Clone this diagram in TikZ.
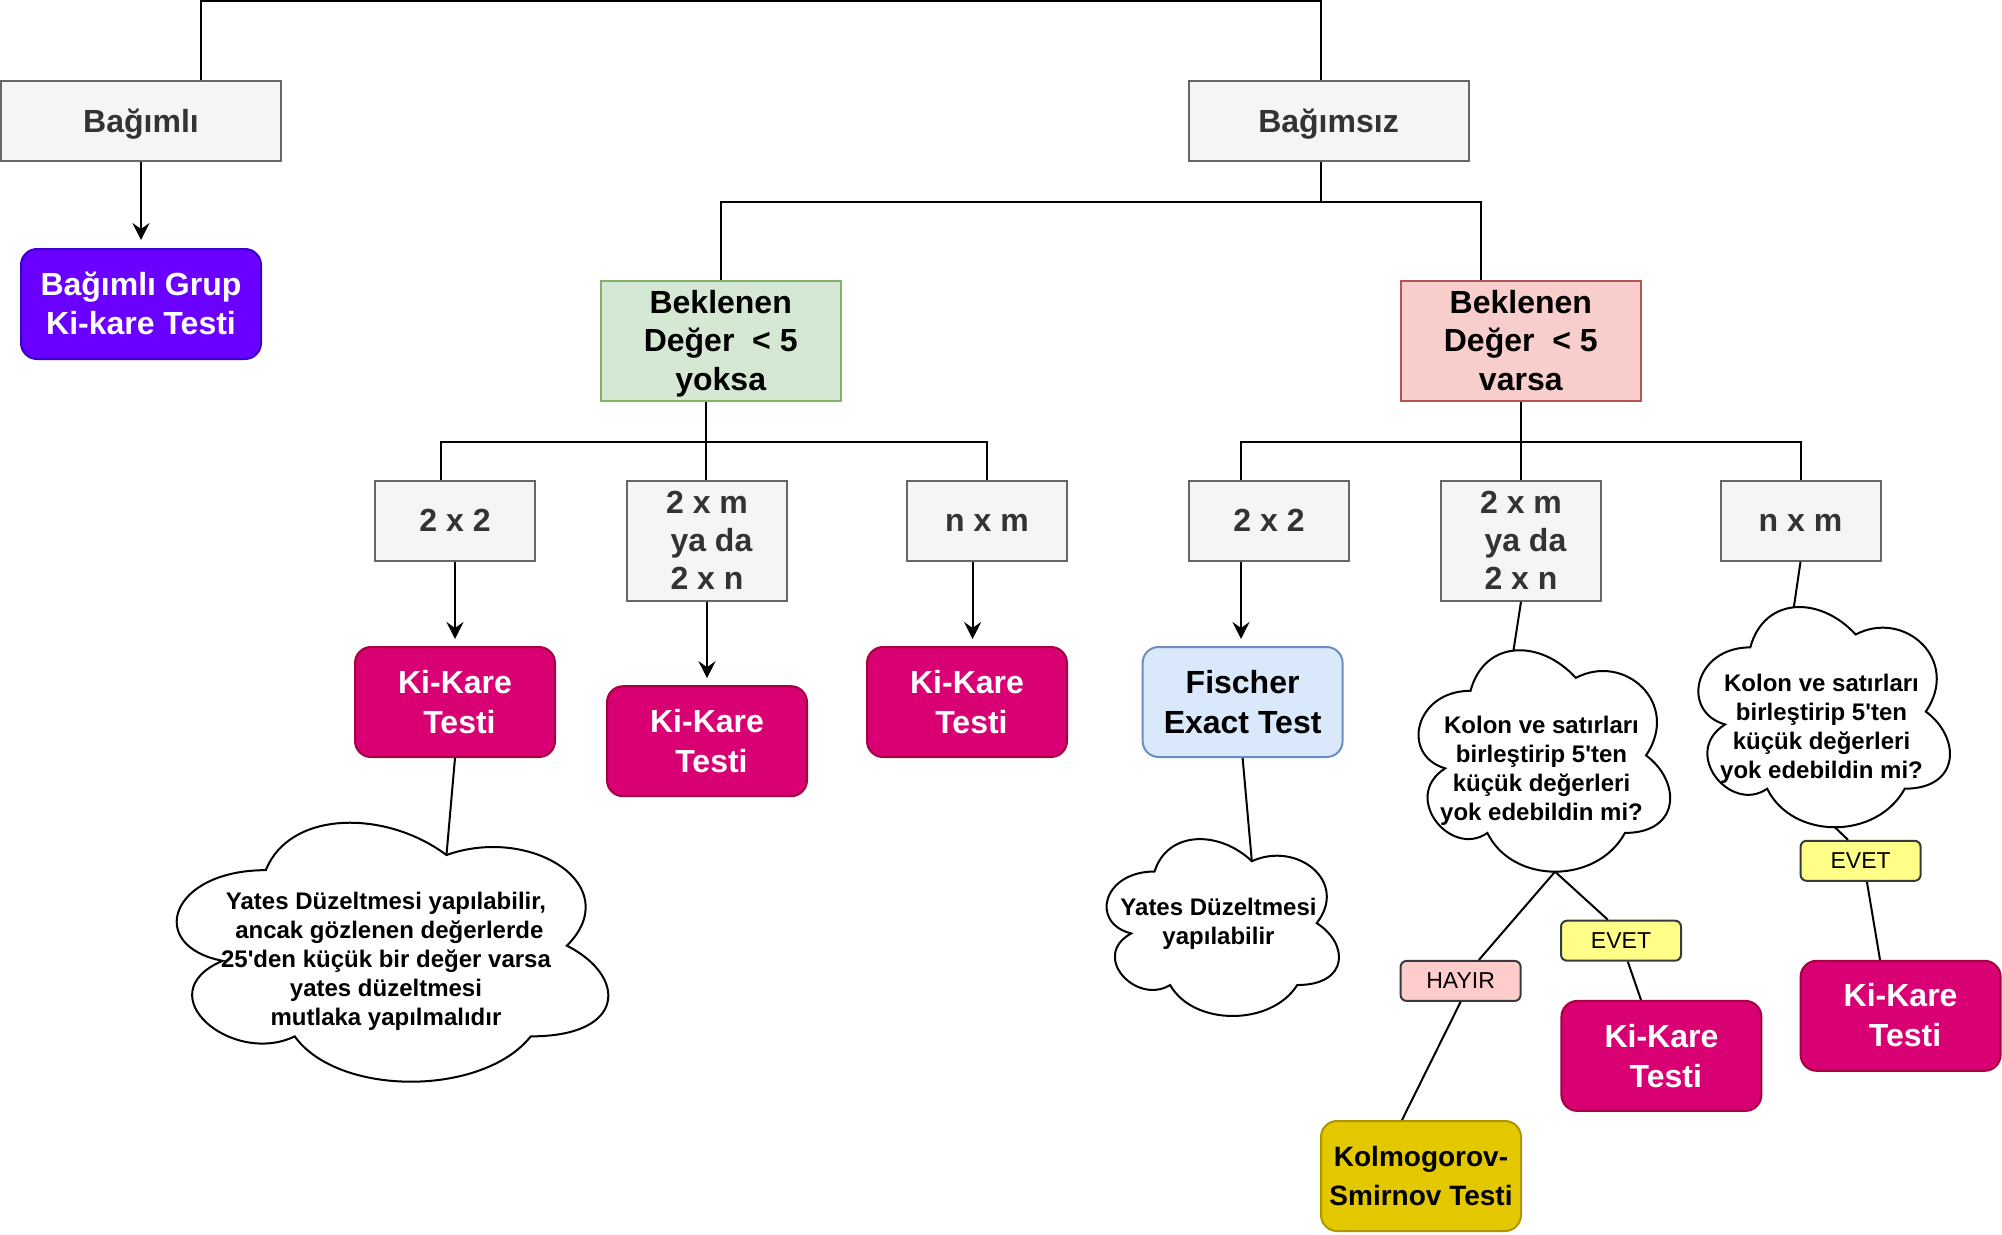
\documentclass[tikz,border=0pt]{standalone}
\usepackage{fontspec}
\setmainfont{Liberation Sans}[Ligatures=TeXOff]
\usetikzlibrary{arrows.meta}
\definecolor{grayfill}{HTML}{F5F5F5}
\definecolor{grayline}{HTML}{666666}
\definecolor{graytext}{HTML}{333333}
\definecolor{greenfill}{HTML}{D5E8D4}
\definecolor{greenline}{HTML}{82B366}
\definecolor{redfill}{HTML}{F8CECC}
\definecolor{redline}{HTML}{B85450}
\definecolor{purplefill}{HTML}{6A00FF}
\definecolor{purpleline}{HTML}{3700CC}
\definecolor{kkfill}{HTML}{D80073}
\definecolor{kkline}{HTML}{A50040}
\definecolor{bluefill}{HTML}{DAE8FC}
\definecolor{blueline}{HTML}{6C8EBF}
\definecolor{goldfill}{HTML}{E3C800}
\definecolor{goldline}{HTML}{B09500}
\definecolor{evetfill}{HTML}{FFFF88}
\definecolor{hayirfill}{HTML}{FFCCCC}
\definecolor{lblline}{HTML}{36393D}
% line strut: centres each line box like the original renderer does
\newcommand\ds{\rule[\dimexpr0.3465em-0.5\baselineskip\relax]{0pt}{\baselineskip}}
\begin{document}
\begin{tikzpicture}[x=1pt,y=-1pt,
  edge/.style={line width=2pt, draw=black},
  arr/.style={edge, -{Stealth[length=17pt,width=17pt,inset=6pt]}, shorten >=7pt},
  basebox/.style={line width=2pt, inner sep=0pt, align=center, font=\fontsize{32}{39}\selectfont\bfseries},
  graybox/.style={basebox, draw=grayline, fill=grayfill, text=graytext, minimum width=160pt, minimum height=80pt},
  kkbox/.style={basebox, rounded corners=16pt, draw=kkline, fill=kkfill, text=white, minimum width=200pt, minimum height=110pt, font=\fontsize{32}{40}\selectfont\bfseries},
  lblbox/.style={line width=2pt, inner sep=0pt, rounded corners=6pt, draw=lblline, minimum width=120pt, minimum height=40pt, font=\fontsize{23}{28}\selectfont},
  cloudline/.style={line width=2pt, draw=black, fill=white},
  cloudtxt/.style={align=center, inner sep=0pt, font=\fontsize{24}{29}\selectfont\bfseries}
]
\useasboundingbox (0,0) rectangle (2002,1234);

% ---------- clouds ----------
\newcommand\mycloud{%
  \draw[cloudline] (0.25,0.25) .. controls (0.05,0.25) and (0,0.5) .. (0.16,0.55)
    .. controls (0,0.66) and (0.18,0.9) .. (0.31,0.8)
    .. controls (0.4,1) and (0.7,1) .. (0.8,0.8)
    .. controls (1,0.8) and (1,0.6) .. (0.875,0.5)
    .. controls (1,0.3) and (0.8,0.1) .. (0.625,0.2)
    .. controls (0.5,0.05) and (0.3,0.05) .. (0.25,0.25) -- cycle;}
\begin{scope}[shift={(145.4,794.6)}, xscale=481.7, yscale=302.2]
  \mycloud
  \coordinate (c1n) at (0.625,0.2);
\end{scope}
\begin{scope}[shift={(1400.3,626.2)}, xscale=280.8, yscale=258.4]
  \mycloud
  \coordinate (c2t) at (0.403,0.094);
  \coordinate (c2b) at (0.551,0.95);
\end{scope}
\begin{scope}[shift={(1680.1,583.1)}, xscale=280.8, yscale=257]
  \mycloud
  \coordinate (c3t) at (0.405,0.094);
  \coordinate (c3b) at (0.551,0.95);
\end{scope}
\begin{scope}[shift={(1089.7,819.9)}, xscale=259.4, yscale=206.4]
  \mycloud
  \coordinate (c4n) at (0.625,0.2);
\end{scope}

\node[cloudtxt] (t1) at (386,959) {\ds Yates Düzeltmesi yapılabilir,\\\ds\ ancak gözlenen değerlerde\\\ds 25'den küçük bir değer varsa\\\ds yates düzeltmesi\\\ds mutlaka yapılmalıdır};
\node[cloudtxt] (t2) at (1541.5,768.6) {\ds Kolon ve satırları\\\ds birleştirip 5'ten\\\ds küçük değerleri\\\ds yok edebildin mi?};
\node[cloudtxt] (t3) at (1821.5,726.2) {\ds Kolon ve satırları\\\ds birleştirip 5'ten\\\ds küçük değerleri\\\ds yok edebildin mi?};
\node[cloudtxt] (t4) at (1218.5,921.2) {\ds Yates Düzeltmesi\\\ds yapılabilir};

% ---------- boxes ----------
\node[graybox, minimum width=280pt] (bagimli) at (141,121) {\ds Bağımlı};
\node[graybox, minimum width=280pt] (bagimsiz) at (1328.5,121) {\ds Bağımsız};
\node[basebox, rounded corners=16pt, draw=purpleline, fill=purplefill, text=white, minimum width=240pt, minimum height=110pt, font=\fontsize{32}{39.5}\selectfont\bfseries] (grup) at (141,304) {\ds Bağımlı Grup\\\ds Ki-kare Testi};
\node[basebox, draw=greenline, fill=greenfill, text=black, minimum width=240pt, minimum height=120pt, font=\fontsize{32}{38.5}\selectfont\bfseries] (yok) at (720.7,340.8) {\ds Beklenen\\\ds Değer~~< 5\\\ds yoksa};
\node[basebox, draw=redline, fill=redfill, text=black, minimum width=240pt, minimum height=120pt, font=\fontsize{32}{38.5}\selectfont\bfseries] (var) at (1520.8,340.8) {\ds Beklenen\\\ds Değer~~< 5\\\ds varsa};

\node[graybox] (lA) at (455,520.7) {\ds 2 x 2};
\node[graybox, minimum height=120pt, font=\fontsize{32}{38}\selectfont\bfseries] (lB) at (707,540.7) {\ds 2 x m\\\ds\ ya da\\\ds 2 x n};
\node[graybox] (lC) at (987,520.7) {\ds n x m};
\node[kkbox] (kA) at (455,702) {\ds Ki-Kare\\\ds\ Testi};
\node[kkbox] (kB) at (707,741.2) {\ds Ki-Kare\\\ds\ Testi};
\node[kkbox] (kC) at (967,702) {\ds Ki-Kare\\\ds\ Testi};

\node[graybox] (rA) at (1269,520.7) {\ds 2 x 2};
\node[graybox, minimum height=120pt, font=\fontsize{32}{38}\selectfont\bfseries] (rB) at (1521,540.7) {\ds 2 x m\\\ds\ ya da\\\ds 2 x n};
\node[graybox] (rC) at (1800.5,520.7) {\ds n x m};
\node[basebox, rounded corners=16pt, draw=blueline, fill=bluefill, text=black, minimum width=200pt, minimum height=110pt, font=\fontsize{32}{40}\selectfont\bfseries] (fis) at (1242.6,702) {\ds Fischer\\\ds Exact Test};

\node[lblbox, fill=evetfill] (ev1) at (1621,940.7) {\ds EVET};
\node[lblbox, fill=hayirfill] (hay) at (1460.6,980.9) {\ds HAYIR};
\node[kkbox] (kD) at (1661.4,1055.9) {\ds Ki-Kare\\\ds\ Testi};
\node[basebox, rounded corners=16pt, draw=goldline, fill=goldfill, text=black, minimum width=200pt, minimum height=110pt, font=\fontsize{28}{39}\selectfont\bfseries] (kol) at (1421,1176) {\ds Kolmogorov-\\\ds Smirnov Testi};
\node[lblbox, fill=evetfill] (ev2) at (1860.6,860.8) {\ds EVET};
\node[kkbox] (kE) at (1900.6,1015.8) {\ds Ki-Kare\\\ds\ Testi};

% ---------- connectors ----------
\draw[edge] ([xshift=60pt]bagimli.north) -- ++(0,-79) -| ([xshift=-7.7pt]bagimsiz.north);
\draw[arr, shorten >=8pt] (bagimli.south) -- (grup.north);
\draw[edge] ([xshift=-7.7pt]bagimsiz.south) -- ++(0,40) -| (yok.north);
\draw[edge] ([xshift=-7.7pt]bagimsiz.south) -- ++(0,40) -| ([xshift=-40.3pt]var.north);

\draw[edge] ([xshift=-14.5pt]yok.south) -- ++(0,39.7) -| ([xshift=-14.2pt]lA.north);
\draw[edge] ([xshift=-14.5pt]yok.south) -- ++(0,39.7) -| ([xshift=-0.7pt]lB.north);
\draw[edge] ([xshift=-14.5pt]yok.south) -- ++(0,39.7) -| (lC.north);

\draw[edge] (var.south) -- ++(0,39.7) -| ([xshift=-28pt]rA.north);
\draw[edge] (var.south) -- ++(0,39.7) -| (rB.north);
\draw[edge] (var.south) -- ++(0,39.7) -| (rC.north);

\draw[arr] (lA.south) -- (kA.north);
\draw[arr] (lB.south) -- (kB.north);
\draw[arr] ([xshift=-14.4pt]lC.south) -- ([xshift=-14.4pt]lC.south |- kC.north);
\draw[arr] ([xshift=-28pt]rA.south) -- ([xshift=-28pt]rA.south |- fis.north);

\draw[edge] (kA.south) -- (c1n);
\draw[edge] (fis.south) -- (c4n);
\draw[edge] (rB.south) -- (c2t);
\draw[edge] (rC.south) -- (c3t);
\draw[edge] (c2b) -- ([xshift=18.3pt]hay.north);
\draw[edge] (c2b) -- ([xshift=-13.2pt]ev1.north);
\draw[edge] (hay.south) -- ([xshift=-19pt]kol.north);
\draw[edge] ([xshift=6.8pt]ev1.south) -- ([xshift=-20.4pt]kD.north);
\draw[edge] (c3b) -- ([xshift=-12.6pt]ev2.north);
\draw[edge] ([xshift=6.3pt]ev2.south) -- ([xshift=-20.6pt]kE.north);
\end{tikzpicture}
\end{document}
